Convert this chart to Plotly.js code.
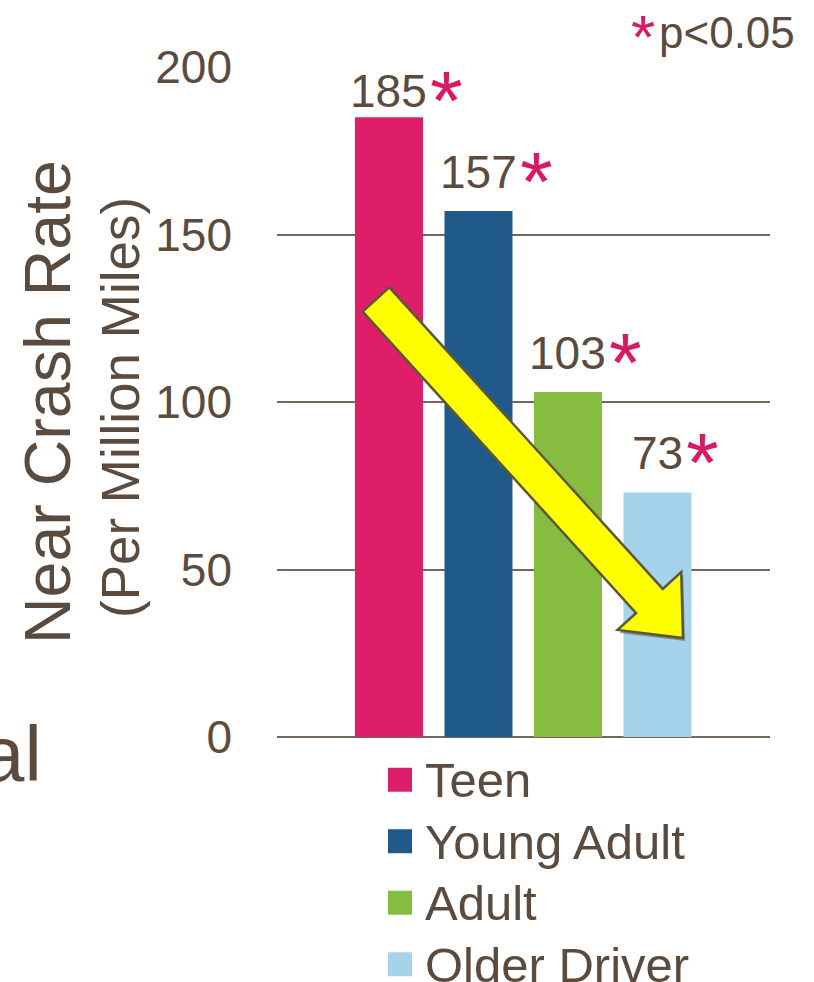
<!DOCTYPE html>
<html><head><meta charset="utf-8">
<script src="https://cdn.plot.ly/plotly-3.0.1.min.js"></script>
<style>html,body{margin:0;padding:0;background:#fff}#chart{width:814px;height:982px}</style>
</head><body><div id="chart"></div>
<script>
// ---- data ----
const categories = ['Teen', 'Young Adult', 'Adult', 'Older Driver'];
const rates = [185, 157, 103, 73];
const significant = [true, true, true, true];
const barColors = ['#DE1E69', '#1F5A8A', '#87BC40', '#A5D3EC'];
const yTicks = [0, 50, 100, 150, 200];

// ---- styling / layout helpers ----
const TXT = '#5B4B3E', PINK = '#D81A66', GRID = '#75685A';
const FONT = '"Liberation Sans", Arial, sans-serif';
const W = 814, H = 982, L = 277, R = 44, T = 67, B = 245;
const PW = W - L - R, PH = H - T - B;
const px = x => (x - L) / PW, py = y => (H - B - y) / PH;

const traces = categories.map((c, i) => ({
  type: 'bar', name: '<span style="font-size:49px">' + c + '</span>', x: [c], y: [rates[i]],
  marker: {color: barColors[i], line: {width: 0}},
  hoverinfo: 'skip', cliponaxis: false
}));

const annotations = [];
rates.forEach((v, i) => {
  const ly = Math.min(v + 7, 188);
  const s = String(v);
  annotations.push({x: categories[i], y: ly, xref: 'x', yref: 'y', text: s, showarrow: false,
    xanchor: 'center', yanchor: 'bottom', yshift: -12, font: {family: FONT, size: 46, color: TXT}});
  if (significant[i]) {
    annotations.push({x: categories[i], y: ly, xref: 'x', yref: 'y', text: '*', showarrow: false,
      xanchor: 'left', yanchor: 'middle', xshift: s.length * 0.556 * 46 / 2 + 1, yshift: 6,
      font: {family: FONT, size: 84, color: PINK}});
  }
});
// subtitle of y axis
annotations.push({xref: 'paper', yref: 'paper', x: px(120), y: py(408), text: '(Per Million Miles)',
  textangle: -90, showarrow: false, xanchor: 'center', yanchor: 'middle',
  font: {family: FONT, size: 53, color: TXT}});
// significance note
annotations.push({xref: 'paper', yref: 'paper', x: px(657), y: py(0), text: '*', showarrow: false,
  xanchor: 'right', yanchor: 'top', font: {family: FONT, size: 62, color: PINK}});
annotations.push({xref: 'paper', yref: 'paper', x: px(797), y: py(6), text: 'p&lt;0.05', showarrow: false,
  xanchor: 'right', yanchor: 'top', font: {family: FONT, size: 44, color: TXT}});
// cut-off slide text at the left
annotations.push({xref: 'paper', yref: 'paper', x: px(44), y: py(800), text: 'al', showarrow: false,
  xanchor: 'right', yanchor: 'bottom', font: {family: FONT, size: 78, color: TXT}});

// yellow trend arrow (decoration)
function arrowPath(dx, dy) {
  const c0 = [376, 299.5], tip = [683, 638];
  const len = Math.hypot(tip[0] - c0[0], tip[1] - c0[1]);
  const u = [(tip[0] - c0[0]) / len, (tip[1] - c0[1]) / len];
  const n = [-u[1], u[0]];
  const w = 18, hw = 43, hl = 50;
  const b = [tip[0] - hl * u[0], tip[1] - hl * u[1]];
  const pts = [
    [c0[0] - w * n[0], c0[1] - w * n[1]],
    [b[0] - w * n[0], b[1] - w * n[1]],
    [b[0] - hw * n[0], b[1] - hw * n[1]],
    tip,
    [b[0] + hw * n[0], b[1] + hw * n[1]],
    [b[0] + w * n[0], b[1] + w * n[1]],
    [c0[0] + w * n[0], c0[1] + w * n[1]]
  ];
  return pts.map((p, k) => (k ? 'L' : 'M') + px(p[0] + dx).toFixed(4) + ',' + py(p[1] + dy).toFixed(4)).join(' ') + ' Z';
}
const shapes = [
  {type: 'path', xref: 'paper', yref: 'paper', path: arrowPath(2, 3), fillcolor: 'rgba(90,84,40,0.55)', line: {width: 0}},
  {type: 'path', xref: 'paper', yref: 'paper', path: arrowPath(0, 0), fillcolor: '#FFFF00', line: {color: '#5E5638', width: 2.5}}
];

const layout = {
  width: W, height: H,
  margin: {l: L, r: R, t: T, b: B, pad: 0, autoexpand: false},
  paper_bgcolor: '#FFFFFF', plot_bgcolor: '#FFFFFF',
  font: {family: FONT, color: TXT},
  barmode: 'overlay', bargap: 0.24,
  showlegend: true,
  legend: {x: px(385), y: py(744), xanchor: 'left', yanchor: 'top', orientation: 'v',
    font: {family: FONT, size: 45, color: TXT}, bgcolor: 'rgba(0,0,0,0)', borderwidth: 0,
    itemclick: false, itemdoubleclick: false, tracegroupgap: 0},
  xaxis: {type: 'category', range: [-1.251, 4.257], showticklabels: false, ticks: '',
    showgrid: false, zeroline: false, showline: false, fixedrange: true},
  yaxis: {range: [0, 200], tickvals: yTicks, ticktext: yTicks.map(String), ticks: '',
    tickfont: {family: FONT, size: 46, color: TXT}, ticklabelstandoff: 44,
    showgrid: true, gridcolor: GRID, gridwidth: 2, zeroline: true, zerolinecolor: GRID, zerolinewidth: 2,
    showline: false, fixedrange: true,
    title: {text: 'Near Crash Rate', font: {family: FONT, size: 64.5, color: TXT}, standoff: 63}},
  annotations: annotations, shapes: shapes
};

Plotly.newPlot('chart', traces, layout, {displayModeBar: false, staticPlot: true}).then(() => {
  document.querySelectorAll('.legend .legendpoints path').forEach(p => {
    p.setAttribute('transform', (p.getAttribute('transform') || '') + ' translate(-5,0) scale(2)');
  });
});
</script>
</body></html>
